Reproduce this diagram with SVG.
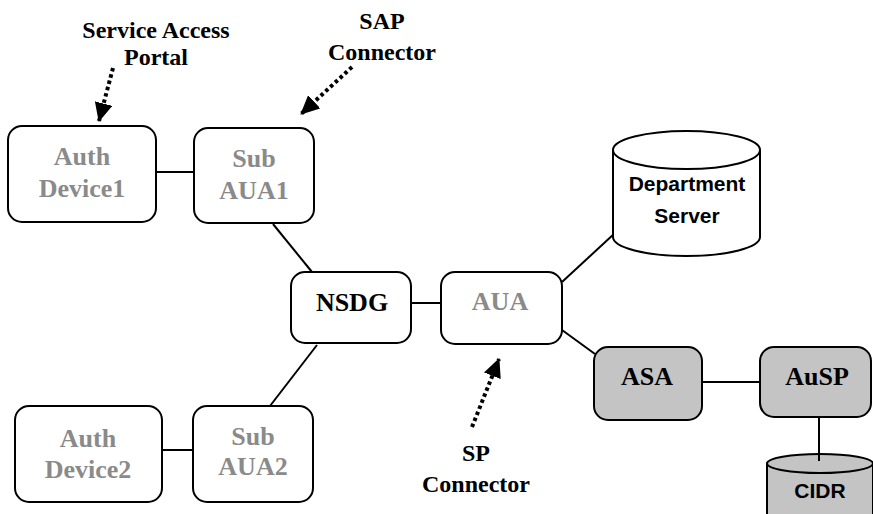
<svg xmlns="http://www.w3.org/2000/svg" width="873" height="514" viewBox="0 0 873 514">
  <style>
    .box { fill: #ffffff; stroke: #000000; stroke-width: 2; }
    .box-dark { fill: #c4c4c4; stroke: #000000; stroke-width: 2; }
    .link { stroke: #000000; stroke-width: 2; fill: none; }
    .pointer { stroke: #000000; stroke-width: 4; stroke-dasharray: 3.5 3; fill: none; }
    .serif { font-family: "Liberation Serif", "Times New Roman", serif; font-weight: bold; text-anchor: middle; }
    .node-grey { font-size: 26px; fill: #8a8a8a; }
    .node-black { font-size: 26px; fill: #000000; }
    .label { font-size: 24px; fill: #000000; }
    .sans { font-family: "Liberation Sans", Arial, sans-serif; font-weight: bold; text-anchor: middle; font-size: 21px; fill: #000000; }
  </style>
  <defs>
    <marker id="head" markerUnits="userSpaceOnUse" markerWidth="20" markerHeight="18" refX="18" refY="9" orient="auto">
      <path d="M0,0 L19,9 L0,18 z" fill="#000000"/>
    </marker>
  </defs>

  <rect width="873" height="514" fill="#ffffff"/>

  <!-- connectors -->
  <g id="connectors">
    <line class="link" x1="156" y1="172" x2="194" y2="172"/>
    <line class="link" x1="273" y1="224" x2="312" y2="272"/>
    <line class="link" x1="317" y1="345" x2="270" y2="406"/>
    <line class="link" x1="162" y1="450" x2="193" y2="450"/>
    <line class="link" x1="411" y1="303" x2="441" y2="303"/>
    <line class="link" x1="562" y1="282" x2="615" y2="233"/>
    <line class="link" x1="562" y1="330" x2="595" y2="354"/>
    <line class="link" x1="702" y1="382" x2="760" y2="382"/>
    <line class="link" x1="819" y1="416" x2="819" y2="461"/>
    <!-- dotted callout arrows -->
    <line class="pointer" x1="113" y1="68" x2="99" y2="121" marker-end="url(#head)"/>
    <line class="pointer" x1="352" y1="67" x2="301" y2="114" marker-end="url(#head)"/>
    <line class="pointer" x1="472" y1="427" x2="499" y2="359" marker-end="url(#head)"/>
  </g>

  <!-- callout labels -->
  <g id="labels" class="serif label">
    <text x="156" y="38">Service Access</text>
    <text x="156" y="65">Portal</text>
    <text x="382" y="29">SAP</text>
    <text x="382" y="60">Connector</text>
    <text x="476" y="461">SP</text>
    <text x="476" y="492">Connector</text>
  </g>

  <g id="auth-device1">
    <rect class="box" x="8" y="126" width="148" height="96" rx="14"/>
    <text class="serif node-grey" x="82" y="165">Auth</text>
    <text class="serif node-grey" x="82" y="197">Device1</text>
  </g>

  <g id="sub-aua1">
    <rect class="box" x="194" y="128" width="120" height="95" rx="14"/>
    <text class="serif node-grey" x="254" y="167">Sub</text>
    <text class="serif node-grey" x="254" y="199">AUA1</text>
  </g>

  <g id="nsdg">
    <rect class="box" x="291" y="272" width="120" height="71" rx="14"/>
    <text class="serif node-black" x="352" y="311">NSDG</text>
  </g>

  <g id="auth-device2">
    <rect class="box" x="15" y="406" width="147" height="96" rx="14"/>
    <text class="serif node-grey" x="88" y="447">Auth</text>
    <text class="serif node-grey" x="88" y="478">Device2</text>
  </g>

  <g id="sub-aua2">
    <rect class="box" x="193" y="406" width="120" height="96" rx="14"/>
    <text class="serif node-grey" x="253" y="445">Sub</text>
    <text class="serif node-grey" x="253" y="475">AUA2</text>
  </g>

  <g id="aua">
    <rect class="box" x="441" y="272" width="121" height="72" rx="14"/>
    <text class="serif node-grey" x="500" y="310">AUA</text>
  </g>

  <g id="department-server">
    <path class="box" d="M613,150 L613,237 A73.5,19 0 0 0 760,237 L760,150"/>
    <ellipse class="box" cx="686.5" cy="150" rx="73.5" ry="19"/>
    <text class="sans" x="687" y="191">Department</text>
    <text class="sans" x="687" y="223">Server</text>
  </g>

  <g id="asa">
    <rect class="box-dark" x="594" y="347" width="108" height="73" rx="14"/>
    <text class="serif node-black" x="647" y="385">ASA</text>
  </g>

  <g id="ausp">
    <rect class="box-dark" x="760" y="347" width="111" height="70" rx="14"/>
    <text class="serif node-black" x="817" y="385">AuSP</text>
  </g>

  <g id="cidr">
    <path class="box-dark" d="M767,463.5 L767,530 L873,530 L873,463.5 z" stroke="none"/>
    <path class="link" d="M767,463.5 L767,520 M873,463.5 L873,520"/>
    <ellipse class="box-dark" cx="820" cy="463.5" rx="53" ry="9.5"/>
    <line class="link" x1="819" y1="454" x2="819" y2="461"/>
    <text class="sans" x="820" y="498">CIDR</text>
  </g>
</svg>
